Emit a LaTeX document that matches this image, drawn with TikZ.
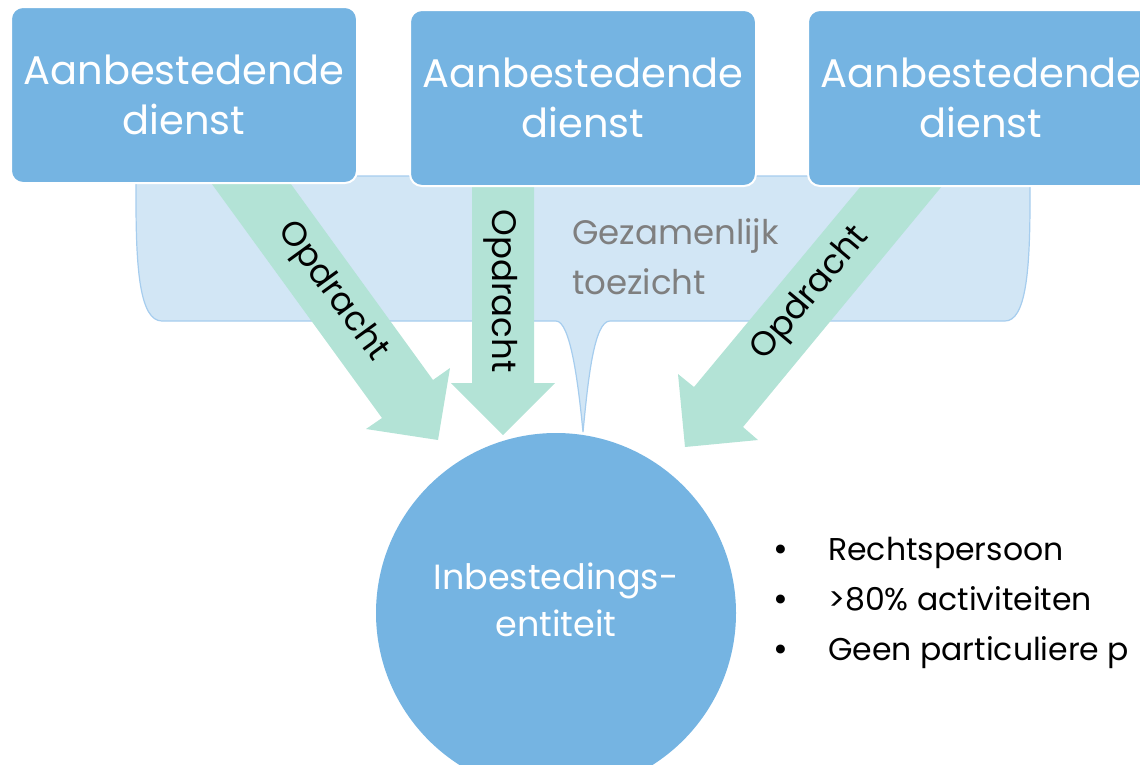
\documentclass[tikz,border=0pt]{standalone}
\usepackage{fontspec}
\setmainfont{Poppins}
\definecolor{boxblue}{HTML}{75B4E2}
\definecolor{callfill}{HTML}{D2E6F5}
\definecolor{calldraw}{HTML}{A6CDEE}
\definecolor{arrgreen}{HTML}{B3E3D6}
\definecolor{graytext}{HTML}{7F7F7F}
\begin{document}
\begin{tikzpicture}[x=1pt,y=-1pt,
  box/.style={draw=white, line width=2pt, fill=boxblue, rounded corners=12pt,
    minimum width=346pt, minimum height=176pt, text=white, align=center,
    font=\fontsize{40}{50}\selectfont, inner sep=0pt},
  arrowshape/.style={fill=arrgreen, draw=none},
  arrowlabel/.style={font=\fontsize{34}{40}\selectfont, text=black, inner sep=0pt},
  bullettext/.style={font=\fontsize{31.5}{36}\selectfont, text=black, anchor=base west, inner sep=0pt}]
\path[use as bounding box] (0,0) rectangle (1140,764);
\clip (0,0) rectangle (1140,764);
% callout (Gezamenlijk toezicht)
\draw[fill=callfill, draw=calldraw, line width=1.2pt]
  (136,176) -- (136,200) .. controls (136,270) and (140,321) .. (162,321)
  -- (556,321) .. controls (570,321) and (578,380) .. (583,432)
  .. controls (588,380) and (594,321) .. (610,321)
  -- (1005,321) .. controls (1026,321) and (1030,270) .. (1030,200) -- (1030,176) -- cycle;
\node[anchor=west, align=left, text=graytext, font=\fontsize{34}{50}\selectfont, inner sep=0pt]
  (gt) at (572,257) {Gezamenlijk\\toezicht};
% arrows
\fill[arrowshape] (209,180) -- (288,180) -- (433,380) -- (450,368) -- (438,440)
  -- (366,429) -- (382,418) -- cycle;
\fill[arrowshape] (472,180) -- (534,180) -- (534,383) -- (555,383) -- (503,435)
  -- (451,383) -- (472,383) -- cycle;
\fill[arrowshape] (866,180) -- (947,180) -- (743,427) -- (758,440) -- (685,447)
  -- (678,374) -- (694,387) -- cycle;
\node[arrowlabel, rotate=-54] (o1) at (332,292) {Opdracht};
\node[arrowlabel, rotate=-90] (o2) at (501,291) {Opdracht};
\node[arrowlabel, rotate=50] (o3) at (811,294) {Opdracht};
% boxes
\node[box] (b1) at (184,95) {Aanbestedende\\dienst};
\node[box] (b2) at (583,98) {Aanbestedende\\dienst};
\node[box] (b3) at (981,98) {Aanbestedende\\dienst};
% circle
\node[circle, fill=boxblue, minimum size=360pt, inner sep=0pt, text=white, align=center,
  font=\fontsize{35}{47}\selectfont] (ie) at (556,613) {};
\node[text=white, align=center, font=\fontsize{35}{47}\selectfont, inner sep=0pt]
  (iet) at (556,600) {Inbestedings-\\entiteit};
% bullets
\node[bullettext, font=\fontsize{36}{36}\selectfont] (d1) at (773,561) {•};
\node[bullettext, font=\fontsize{36}{36}\selectfont] (d2) at (773,611) {•};
\node[bullettext, font=\fontsize{36}{36}\selectfont] (d3) at (773,661) {•};
\node[bullettext] (t1) at (828,560) {Rechtspersoon};
\node[bullettext] (t2) at (828,610) {>80\% activiteiten};
\node[bullettext] (t3) at (828,660) {Geen particuliere p};
\end{tikzpicture}
\end{document}
